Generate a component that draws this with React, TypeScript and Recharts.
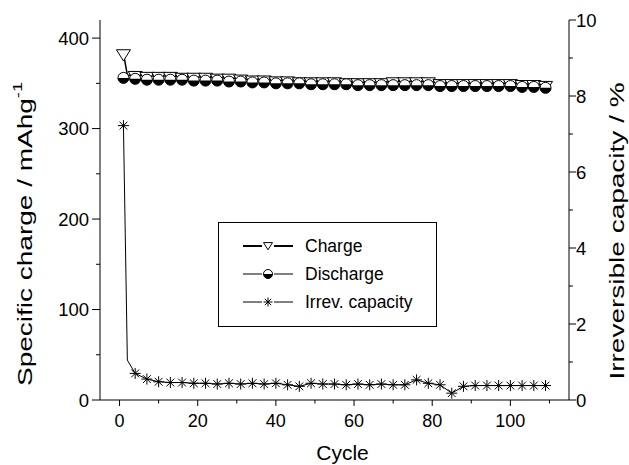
import React from 'react';
import { ComposedChart, Line, XAxis, YAxis, Legend } from 'recharts';

const cycles = [1, 2, 4, 7, 10, 13, 16, 19, 22, 25, 28, 31, 34, 37, 40, 43, 46, 49, 52, 55, 58, 61, 64, 67, 70, 73, 76, 79, 82, 85, 88, 91, 94, 97, 100, 103, 106, 109];
const chargeValues = [383, 359, 359, 358, 358, 358, 357, 357, 357, 356, 356, 355, 354, 354, 353, 353, 352, 352, 352, 352, 351, 351, 351, 351, 352, 352, 352, 352, 350, 350, 350, 350, 350, 350, 350, 349, 349, 348];
const dischargeValues = [356, 355, 355, 354, 354, 354, 354, 353, 353, 353, 352, 352, 351, 351, 350, 350, 350, 349, 349, 349, 349, 348, 348, 348, 348, 348, 348, 348, 347, 347, 347, 347, 347, 347, 347, 346, 346, 345];
const irrevValues = [7.22, 1.05, 0.7, 0.55, 0.48, 0.46, 0.46, 0.44, 0.44, 0.42, 0.44, 0.42, 0.44, 0.42, 0.44, 0.4, 0.36, 0.44, 0.42, 0.42, 0.4, 0.42, 0.4, 0.42, 0.4, 0.4, 0.53, 0.44, 0.4, 0.18, 0.36, 0.38, 0.38, 0.38, 0.38, 0.38, 0.38, 0.38];
const hiddenMarkerCycles = [2];

const xTicks = [0, 10, 20, 30, 40, 50, 60, 70, 80, 90, 100, 110];
const xTickLabels = [0, 20, 40, 60, 80, 100];
const leftTicks = [0, 50, 100, 150, 200, 250, 300, 350, 400];
const leftTickLabels = [0, 100, 200, 300, 400];
const rightTicks = [0, 1, 2, 3, 4, 5, 6, 7, 8, 9, 10];
const rightTickLabels = [0, 2, 4, 6, 8, 10];

const seriesNames = ['Charge', 'Discharge', 'Irrev. capacity'];

const data = cycles.map((c, i) => ({
  cycle: c,
  charge: chargeValues[i],
  discharge: dischargeValues[i],
  irrev: irrevValues[i],
}));

const FONT = '"Liberation Sans", Arial, Helvetica, sans-serif';
const INK = '#000';

const TriangleDown = ({ cx, cy, r = 7 }: any) => {
  const h = r * 1.6;
  return (
    <path
      d={`M${cx - r},${cy - h / 3} L${cx + r},${cy - h / 3} L${cx},${cy + (2 * h) / 3} Z`}
      fill="#fff"
      stroke={INK}
      strokeWidth={1}
    />
  );
};

const HalfCircle = ({ cx, cy, r = 5.5 }: any) => (
  <g>
    <circle cx={cx} cy={cy} r={r} fill="#fff" stroke={INK} strokeWidth={1} />
    <path d={`M${cx - r},${cy} A${r},${r} 0 0 0 ${cx + r},${cy} Z`} fill={INK} />
  </g>
);

const Star = ({ cx, cy, r = 5.5 }: any) => {
  const d = r * 0.7071;
  return (
    <g stroke={INK} strokeWidth={1}>
      <line x1={cx} y1={cy - r} x2={cx} y2={cy + r} />
      <line x1={cx - r} y1={cy} x2={cx + r} y2={cy} />
      <line x1={cx - d} y1={cy - d} x2={cx + d} y2={cy + d} />
      <line x1={cx - d} y1={cy + d} x2={cx + d} y2={cy - d} />
    </g>
  );
};

const makeDot = (Marker: any, id: string) => (p: any) => {
  const key = `${id}-${p.index}`;
  if (!p.payload || hiddenMarkerCycles.includes(p.payload.cycle) || p.cx == null || p.cy == null) {
    return <g key={key} />;
  }
  return (
    <g key={key}>
      <Marker cx={p.cx} cy={p.cy} />
    </g>
  );
};

const BottomTick = ({ x, y, payload }: any) => {
  const major = xTickLabels.includes(payload.value);
  return (
    <g>
      <line x1={x} x2={x} y1={y} y2={y + (major ? 6 : 3.5)} stroke={INK} />
      {major && (
        <text x={x} y={y + 27} textAnchor="middle" fontSize={18} fontFamily={FONT} fill={INK}>
          {payload.value}
        </text>
      )}
    </g>
  );
};

const TopTick = ({ x, y }: any) => (
  <line x1={x} x2={x} y1={y} y2={y + 6} stroke={INK} />
);

const LeftTick = ({ x, y, payload }: any) => {
  const major = leftTickLabels.includes(payload.value);
  return (
    <g>
      <line x1={x - (major ? 8 : 4)} x2={x} y1={y} y2={y} stroke={INK} />
      {major && (
        <text x={x - 11} y={y} dy={6.5} textAnchor="end" fontSize={18.5} fontFamily={FONT} fill={INK}>
          {payload.value}
        </text>
      )}
    </g>
  );
};

const RightTick = ({ x, y, payload }: any) => {
  const major = rightTickLabels.includes(payload.value);
  return (
    <g>
      <line x1={x} x2={x + (major ? 7 : 4)} y1={y} y2={y} stroke={INK} />
      {major && (
        <text x={x + 7} y={y} dy={6.5} textAnchor="start" fontSize={18.5} fontFamily={FONT} fill={INK}>
          {payload.value}
        </text>
      )}
    </g>
  );
};

const LeftTitle = (props: any) => {
  const vb = props.viewBox || { x: 0, y: 20, width: 100, height: 380 };
  const cx = vb.x + 25;
  const cy = vb.y + vb.height / 2 + 24;
  return (
    <text
      x={0}
      y={0}
      transform={`translate(${cx} ${cy}) rotate(-90) scale(1.4 1)`}
      textAnchor="middle"
      dominantBaseline="central"
      fontSize={20}
      fontFamily={FONT}
      fill={INK}
    >
      <tspan>Specific charge / mAhg</tspan>
      <tspan dy={-8} fontSize={13}>-1</tspan>
    </text>
  );
};

const RightTitle = (props: any) => {
  const vb = props.viewBox || { x: 569, y: 20, width: 60, height: 380 };
  const cx = vb.x + 48;
  const cy = vb.y + vb.height / 2 + 21;
  return (
    <text
      x={0}
      y={0}
      transform={`translate(${cx} ${cy}) rotate(-90) scale(1.4 1)`}
      textAnchor="middle"
      dominantBaseline="central"
      fontSize={20}
      fontFamily={FONT}
      fill={INK}
    >
      Irreversible capacity / %
    </text>
  );
};

const BottomTitle = (props: any) => {
  const vb = props.viewBox || { x: 100, y: 400, width: 469, height: 65 };
  return (
    <text x={vb.x + vb.width / 2 + 8} y={vb.y + 60} textAnchor="middle" fontSize={21} fontFamily={FONT} fill={INK}>
      Cycle
    </text>
  );
};

const legendMarkers = [TriangleDown, HalfCircle, Star];
const legendStrokes = [2, 1, 1];

const LegendBox = () => (
  <div
    style={{
      border: '1px solid #000',
      background: '#fff',
      width: 219,
      height: 105,
      boxSizing: 'border-box',
      paddingTop: 9,
      fontFamily: FONT,
    }}
  >
    {seriesNames.map((name, i) => {
      const M = legendMarkers[i];
      return (
        <div key={name} style={{ display: 'flex', alignItems: 'center', height: 28 }}>
          <svg width={86} height={28} style={{ display: 'block' }}>
            <line x1={24} x2={74} y1={14} y2={14} stroke={INK} strokeWidth={legendStrokes[i]} />
            <rect x={43} y={8} width={12} height={12} fill="#fff" />
            {i === 0 ? <TriangleDown cx={49} cy={13} r={4.5} /> : <M cx={49} cy={14} r={4.5} />}
          </svg>
          <span style={{ fontSize: 17.5, color: INK, marginLeft: 0 }}>{name}</span>
        </div>
      );
    })}
  </div>
);

export default function App() {
  return (
    <div style={{ position: 'absolute', left: 0, top: 0, background: '#fff' }}>
      <ComposedChart width={629} height={465} data={data} margin={{ top: 20, right: 0, bottom: 0, left: 0 }}>
        <XAxis
          xAxisId="bottom"
          dataKey="cycle"
          type="number"
          domain={[-5, 115]}
          ticks={xTicks}
          interval={0}
          allowDataOverflow
          height={65}
          tickSize={0}
          tickMargin={0}
          tickLine={false}
          axisLine={{ stroke: INK }}
          tick={<BottomTick />}
          label={BottomTitle}
        />
        <XAxis
          xAxisId="top"
          orientation="top"
          dataKey="cycle"
          type="number"
          domain={[-5, 115]}
          ticks={xTicks}
          interval={0}
          allowDataOverflow
          height={0}
          tickSize={0}
          tickMargin={0}
          tickLine={false}
          axisLine={{ stroke: INK }}
          tick={<TopTick />}
        />
        <YAxis
          yAxisId="left"
          type="number"
          domain={[0, 420]}
          ticks={leftTicks}
          interval={0}
          allowDataOverflow
          width={100}
          tickSize={0}
          tickMargin={0}
          tickLine={false}
          axisLine={{ stroke: INK }}
          tick={<LeftTick />}
          label={LeftTitle}
        />
        <YAxis
          yAxisId="right"
          orientation="right"
          type="number"
          domain={[0, 10]}
          ticks={rightTicks}
          interval={0}
          allowDataOverflow
          width={60}
          tickSize={0}
          tickMargin={0}
          tickLine={false}
          axisLine={{ stroke: INK }}
          tick={<RightTick />}
          label={RightTitle}
        />
        <Legend
          layout="vertical"
          align="center"
          verticalAlign="middle"
          content={LegendBox}
          wrapperStyle={{ left: 218, top: 222, width: 219, height: 105 }}
        />
        <Line
          xAxisId="bottom"
          yAxisId="right"
          dataKey="irrev"
          name={seriesNames[2]}
          stroke={INK}
          strokeWidth={1}
          dot={makeDot(Star, 'irrev')}
          isAnimationActive={false}
        />
        <Line
          xAxisId="bottom"
          yAxisId="left"
          dataKey="charge"
          name={seriesNames[0]}
          stroke={INK}
          strokeWidth={1.5}
          dot={makeDot(TriangleDown, 'charge')}
          isAnimationActive={false}
        />
        <Line
          xAxisId="bottom"
          yAxisId="left"
          dataKey="discharge"
          name={seriesNames[1]}
          stroke={INK}
          strokeWidth={1}
          dot={makeDot(HalfCircle, 'discharge')}
          isAnimationActive={false}
        />
      </ComposedChart>
    </div>
  );
}
